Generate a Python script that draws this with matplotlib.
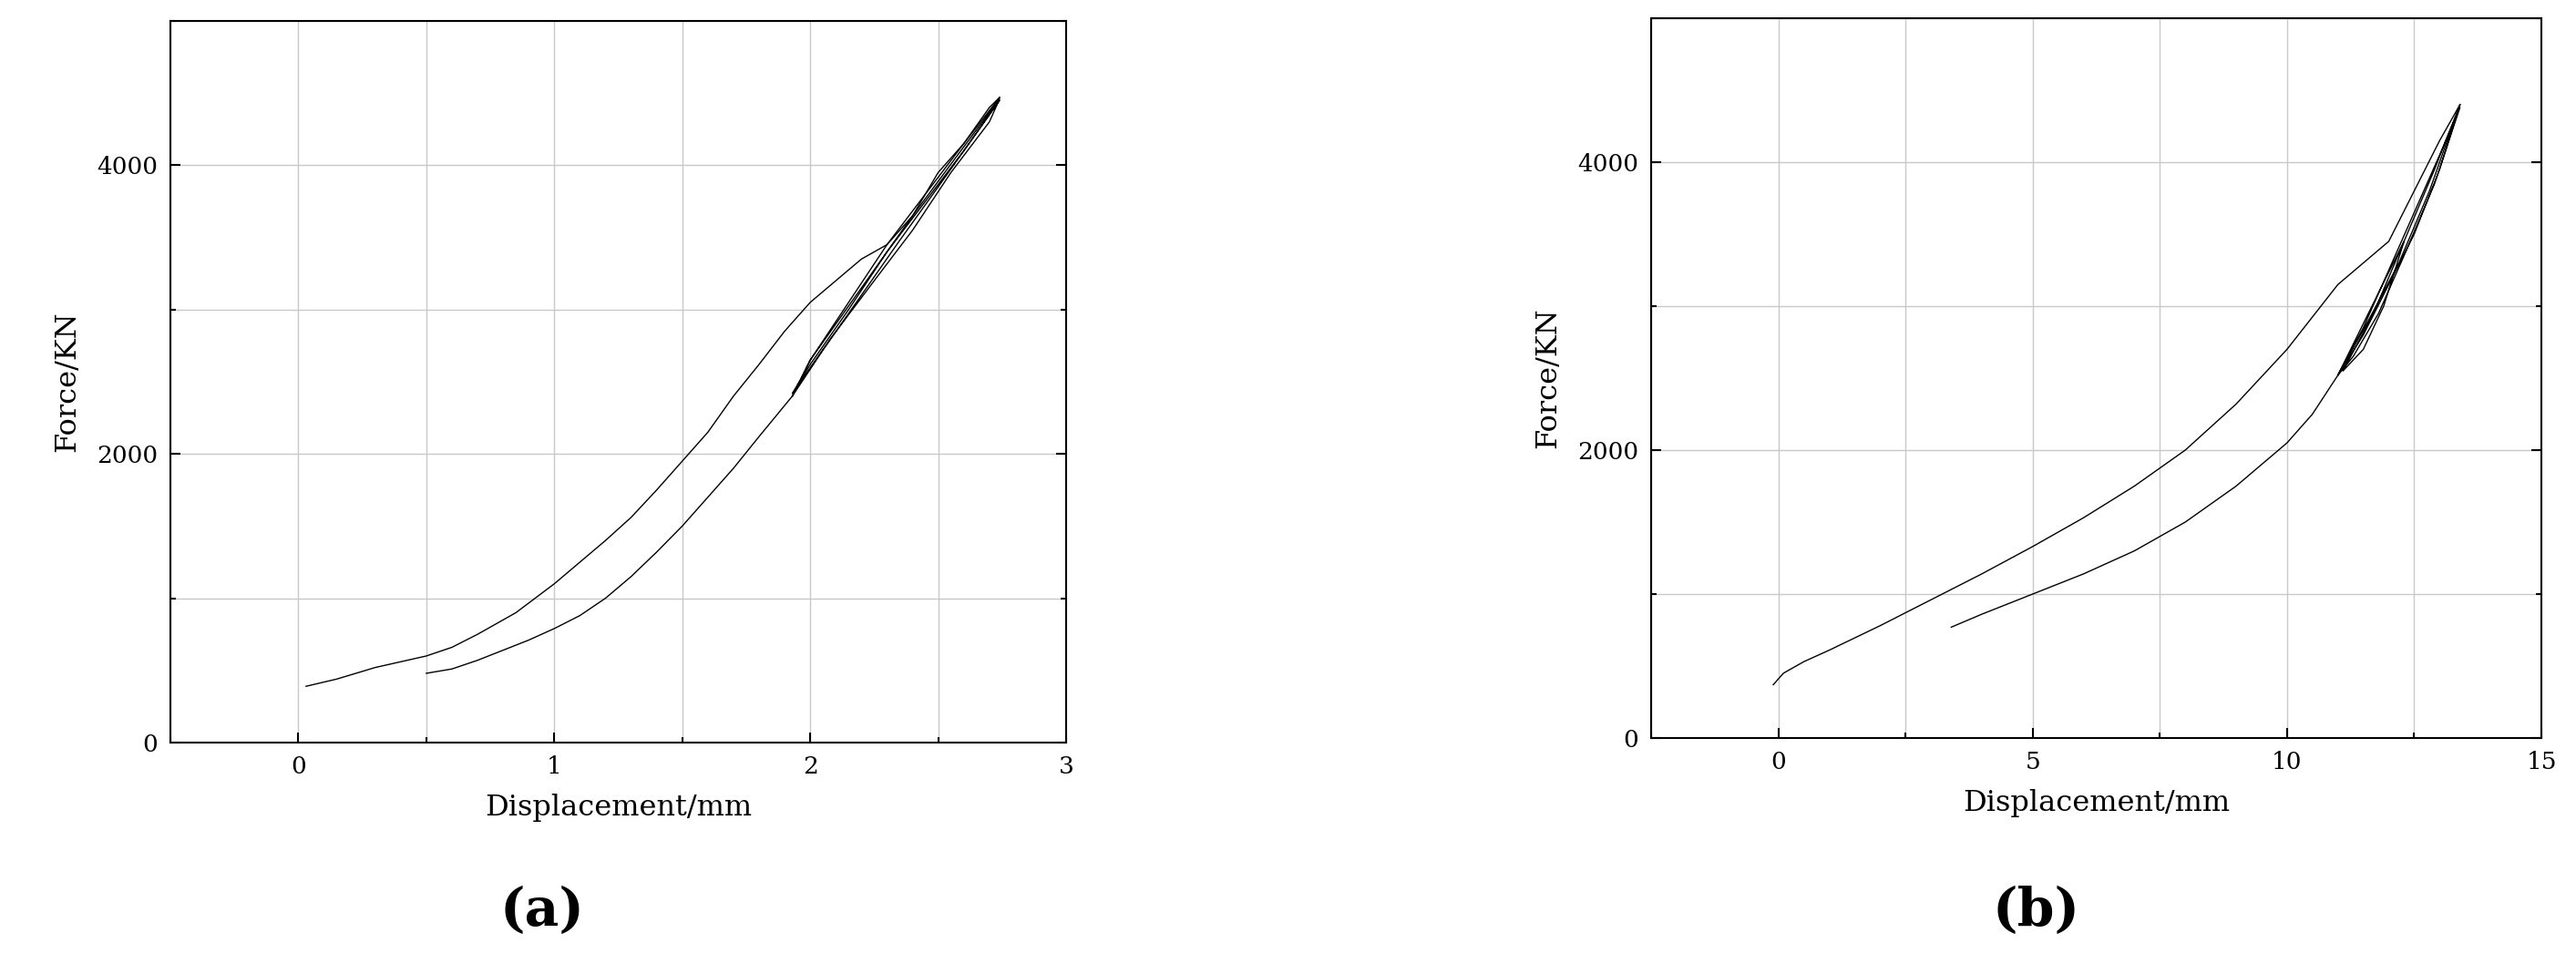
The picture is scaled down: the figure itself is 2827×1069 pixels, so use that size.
import matplotlib
matplotlib.use("Agg")
import matplotlib.pyplot as plt
from matplotlib.ticker import MultipleLocator

# Panel (a) data
a_load_x = [0.03, 0.15, 0.3, 0.5, 0.6, 0.7, 0.85, 1.0, 1.1, 1.2, 1.3, 1.4, 1.5, 1.6, 1.7, 1.8, 1.9, 2.0, 2.1, 2.2, 2.3, 2.4, 2.5, 2.6, 2.7, 2.74]
a_load_y = [390, 440, 520, 600, 660, 750, 900, 1100, 1250, 1400, 1560, 1750, 1950, 2150, 2400, 2620, 2850, 3050, 3200, 3350, 3450, 3650, 3950, 4150, 4400, 4470]
a_cyc_x = [2.74, 2.6, 2.45, 2.3, 2.15, 2.0, 1.93, 2.05, 2.2, 2.35, 2.5, 2.62, 2.74, 2.6, 2.45, 2.3, 2.15, 2.0, 1.93, 2.08, 2.25, 2.4, 2.55, 2.7, 2.74, 2.58, 2.4, 2.2, 2.0, 1.93]
a_cyc_y = [4470, 4150, 3800, 3450, 3050, 2650, 2400, 2720, 3100, 3480, 3850, 4150, 4450, 4100, 3750, 3400, 3000, 2620, 2420, 2800, 3200, 3550, 3950, 4300, 4460, 4080, 3650, 3150, 2650, 2400]
a_unl_x = [1.93, 1.8, 1.7, 1.6, 1.5, 1.4, 1.3, 1.2, 1.1, 1.0, 0.9, 0.8, 0.7, 0.6, 0.5]
a_unl_y = [2400, 2120, 1900, 1700, 1500, 1320, 1150, 1000, 880, 790, 710, 640, 570, 510, 480]

# Panel (b) data
b_load_x = [-0.1, 0.1, 0.5, 1, 2, 3, 4, 5, 6, 7, 8, 9, 10, 11, 11.5, 12, 12.5, 13, 13.4]
b_load_y = [370, 450, 530, 610, 780, 960, 1140, 1330, 1530, 1750, 2000, 2320, 2700, 3150, 3300, 3450, 3800, 4150, 4400]
b_cyc_x = [13.4, 13.0, 12.5, 12.0, 11.5, 11.0, 11.5, 12.0, 12.5, 13.0, 13.4, 12.9, 12.3, 11.8, 11.3, 11.0, 11.6, 12.3, 11.9, 11.5, 11.1, 11.7, 12.3, 12.9, 13.4, 12.8, 12.2, 11.6, 11.0]
b_cyc_y = [4400, 3950, 3500, 3150, 2800, 2520, 2850, 3250, 3650, 4050, 4380, 3850, 3350, 2950, 2650, 2520, 2950, 3450, 3000, 2700, 2550, 2950, 3450, 3950, 4400, 3800, 3300, 2900, 2520]
b_unl_x = [11.0, 10.5, 10.0, 9.0, 8.0, 7.0, 6.0, 5.0, 4.0, 3.4]
b_unl_y = [2520, 2250, 2050, 1750, 1500, 1300, 1140, 1000, 860, 770]

plt.rcParams['font.family'] = ['DejaVu Serif']
fig = plt.figure(figsize=(28.27, 10.69), dpi=100)

def setup(ax, xlim, xmaj, xmin):
    ax.set_xlim(*xlim)
    ax.set_ylim(0, 5000)
    ax.xaxis.set_major_locator(MultipleLocator(xmaj))
    ax.xaxis.set_minor_locator(MultipleLocator(xmin))
    ax.yaxis.set_major_locator(MultipleLocator(2000))
    ax.yaxis.set_minor_locator(MultipleLocator(1000))
    ax.grid(True, which='both', color='#c8c8c8', lw=1)
    ax.tick_params(which='both', direction='in', top=False, right=True, labelsize=19, length=8, width=1.5, pad=10)
    ax.tick_params(which='minor', length=4)
    for s in ax.spines.values():
        s.set_linewidth(1.5)
    ax.set_xlabel('Displacement/mm', fontsize=23, labelpad=12)
    ax.set_ylabel('Force/KN', fontsize=23, labelpad=12)

ax1 = fig.add_axes([187/2827, 1 - 815/1069, 983/2827, 792/1069])
setup(ax1, (-0.5, 3), 1, 0.5)
for x, y in [(a_load_x, a_load_y), (a_cyc_x, a_cyc_y), (a_unl_x, a_unl_y)]:
    ax1.plot(x, y, color='black', lw=1)

ax2 = fig.add_axes([1812/2827, 1 - 810/1069, 977/2827, 790/1069])
setup(ax2, (-2.5, 15), 5, 2.5)
for x, y in [(b_load_x, b_load_y), (b_cyc_x, b_cyc_y), (b_unl_x, b_unl_y)]:
    ax2.plot(x, y, color='black', lw=1)

fig.text(595/2827, 1 - 1000/1069, '(a)', fontsize=42, fontweight='bold', ha='center', va='center')
fig.text(2235/2827, 1 - 1000/1069, '(b)', fontsize=42, fontweight='bold', ha='center', va='center')
fig.savefig('out.png', dpi=100)
